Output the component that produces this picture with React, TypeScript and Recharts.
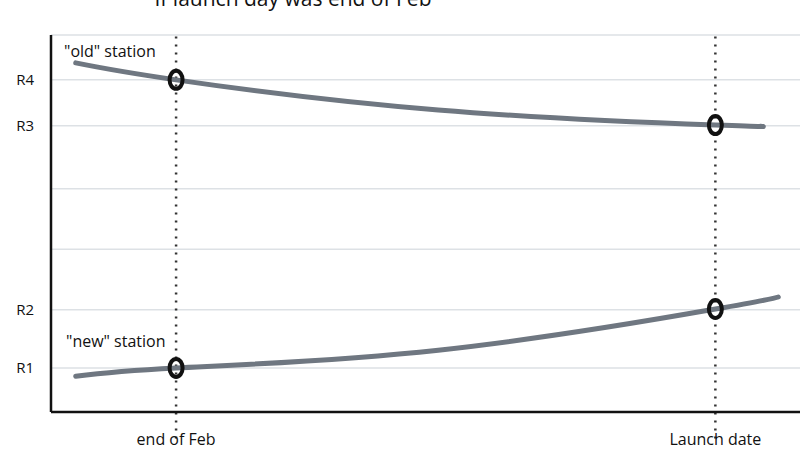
import React from 'react';
import {
  LineChart,
  Line,
  XAxis,
  YAxis,
  CartesianGrid,
  ReferenceLine,
  ReferenceDot
} from 'recharts';

// time runs 0..100 across the plot, level runs 0..100 up the plot
const oldStation = [
  { t: 3.3, level: 92.6 },
  { t: 16.7, level: 88.1 },
  { t: 51.7, level: 80.1 },
  { t: 88.7, level: 76.1 },
  { t: 94.7, level: 75.8 }
];

const newStation = [
  { t: 3.3, level: 9.5 },
  { t: 16.7, level: 11.7 },
  { t: 51.7, level: 16.4 },
  { t: 88.7, level: 27.3 },
  { t: 97.1, level: 30.5 }
];

const levelTicks = [11.7, 27.1, 43.2, 59.2, 75.9, 88.1];
const levelLabels: Record<number, string> = { 11.7: 'R1', 27.1: 'R2', 75.9: 'R3', 88.1: 'R4' };

const dateTicks = [16.7, 88.7];
const dateLabels: Record<number, string> = { 16.7: 'end of Feb', 88.7: 'Launch date' };

const markers = [
  { t: 16.7, level: 88.1 },
  { t: 88.7, level: 76.1 },
  { t: 88.7, level: 27.3 },
  { t: 16.7, level: 11.7 }
];

const FONT = '"Open Sans", sans-serif';
const LINE = '#6f7781';

const Ring = (props: any) => (
  <ellipse cx={props.cx} cy={props.cy} rx={6.5} ry={9} fill="none" stroke="#111" strokeWidth={4} />
);

export default function App() {
  return (
    <div style={{ position: 'absolute', left: 0, top: 0, width: 800, height: 450, background: '#fff' }}>
      <LineChart width={800} height={450} margin={{ top: 35, right: 0, left: 0, bottom: 0 }}>
        <CartesianGrid vertical={false} stroke="#dde1e5" strokeWidth={1.5} />
        <XAxis
          type="number"
          dataKey="t"
          domain={[0, 100]}
          ticks={dateTicks}
          tickFormatter={(v: number) => dateLabels[v] ?? ''}
          height={38}
          tickSize={0}
          tickMargin={22}
          axisLine={{ stroke: '#111', strokeWidth: 2.5 }}
          tick={{ fill: '#111', fontSize: 16, fontFamily: FONT }}
          allowDuplicatedCategory={false}
        />
        <YAxis
          type="number"
          domain={[0, 100]}
          ticks={levelTicks}
          tickFormatter={(v: number) => levelLabels[v] ?? ''}
          width={51}
          tickSize={0}
          tickMargin={17}
          axisLine={{ stroke: '#111', strokeWidth: 2.5 }}
          tick={{ fill: '#111', fontSize: 15, fontFamily: FONT }}
        />
        {dateTicks.map((d) => (
          <ReferenceLine
            key={d}
            segment={[{ x: d, y: -7 }, { x: d, y: 100 }]}
            ifOverflow="visible"
            stroke="#333"
            strokeWidth={2.5}
            strokeDasharray="2 6"
          />
        ))}
        <Line
          data={oldStation}
          dataKey="level"
          type="natural"
          stroke={LINE}
          strokeWidth={5}
          strokeLinecap="round"
          dot={false}
          activeDot={false}
          isAnimationActive={false}
        />
        <Line
          data={newStation}
          dataKey="level"
          type="natural"
          stroke={LINE}
          strokeWidth={5}
          strokeLinecap="round"
          dot={false}
          activeDot={false}
          isAnimationActive={false}
        />
        {markers.map((m, i) => (
          <ReferenceDot key={i} x={m.t} y={m.level} shape={Ring} ifOverflow="visible" />
        ))}
        <text x={293} y={6} textAnchor="middle" fontSize={21} fontFamily={FONT} fill="#111">
          If launch day was end of Feb
        </text>
        <text x={64} y={57} fontSize={16} fontFamily={FONT} fill="#111">
          "old" station
        </text>
        <text x={66} y={347} fontSize={16} fontFamily={FONT} fill="#111">
          "new" station
        </text>
      </LineChart>
    </div>
  );
}
